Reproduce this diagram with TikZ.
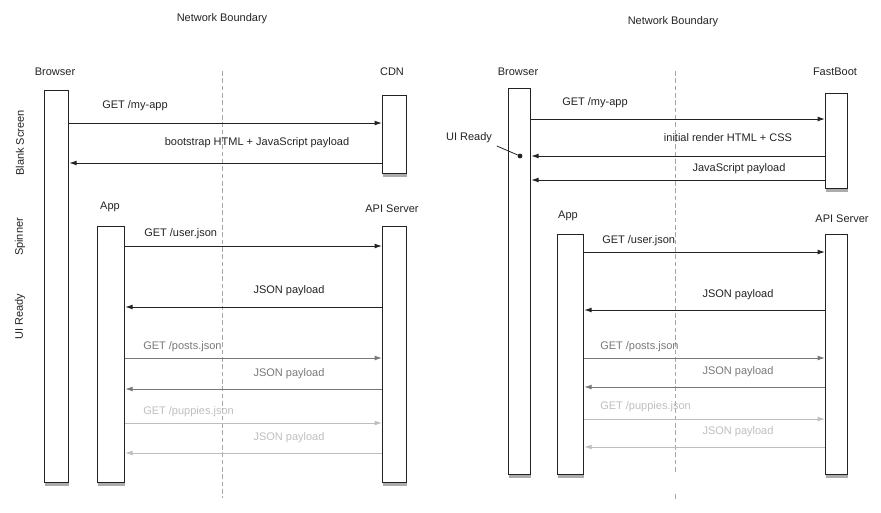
\documentclass[tikz,border=0pt]{standalone}
\usepackage{fontspec}
\setmainfont{Liberation Sans}
\usetikzlibrary{positioning,shadows,arrows.meta}

\definecolor{ink}{RGB}{35,35,35}
\definecolor{midgray}{RGB}{120,120,120}
\definecolor{palegray}{RGB}{190,190,190}
\definecolor{boundary}{RGB}{165,165,165}

\tikzset{
  lifeline/.style={draw=ink, line width=0.9pt, fill=white, anchor=north west, inner sep=0pt,
    drop shadow={shadow xshift=0.6pt, shadow yshift=-2.2pt, opacity=0.65}},
  actor/.style={inner sep=0.75pt, text=ink},
  msg/.style={color=ink, line width=0.7pt, -{Latex[length=5.5pt,width=3.6pt]}},
  msgtxt/.style={inner sep=0.75pt, text=ink},
  faded/.style={color=midgray},
  ghost/.style={color=palegray},
  boundaryline/.style={draw=boundary, line width=0.6pt, dash pattern=on 3.5pt off 2pt},
  dot/.style={circle, fill=ink, inner sep=0pt, minimum size=3.6pt},
}

\begin{document}
\begin{tikzpicture}[x=0.75pt,y=0.75pt,yscale=-1,xscale=1,font=\fontsize{8.25}{10}\selectfont]
  \useasboundingbox (0,0) rectangle (881,512);

  % left: CDN
  \node[actor] (nbL) at (222,19) {Network Boundary};
  \draw[boundaryline] (222,71) -- (222,498);

  \node[lifeline, minimum width=18pt, minimum height=294pt] (brL) at (44,90) {};
  \node[lifeline, minimum width=18pt, minimum height=58.5pt] (cdnL) at (382,95) {};
  \node[lifeline, minimum width=20.25pt, minimum height=192pt] (appL) at (97,226) {};
  \node[lifeline, minimum width=18pt, minimum height=192pt] (apiL) at (382,226) {};

  \node[actor] (brLtxt) at (55,72) {Browser};
  \node[actor] (cdnLtxt) at (392,72) {CDN};
  \node[actor] (appLtxt) at (110,207) {App};
  \node[actor] (apiLtxt) at (392,209) {API Server};

  \node[actor, rotate=90] (blank) at (20,143) {Blank Screen};
  \node[actor, rotate=90] (spinner) at (20,237) {Spinner};
  \node[actor, rotate=90] (readyL) at (20,317) {UI Ready};

  \draw[msg] (brL.east |- 0,123) -- (cdnL.west |- 0,123);
  \draw[msg] (cdnL.west |- 0,163) -- (brL.east |- 0,163);
  \draw[msg] (appL.east |- 0,246) -- (apiL.west |- 0,246);
  \draw[msg] (apiL.west |- 0,307) -- (appL.east |- 0,307);
  \draw[msg, faded] (appL.east |- 0,358) -- (apiL.west |- 0,358);
  \draw[msg, faded] (apiL.west |- 0,389) -- (appL.east |- 0,389);
  \draw[msg, ghost] (appL.east |- 0,423) -- (apiL.west |- 0,423);
  \draw[msg, ghost] (apiL.west |- 0,453) -- (appL.east |- 0,453);

  \node[msgtxt, anchor=west] (m1L) at (101,106) {GET /my-app};
  \node[msgtxt] (m2L) at (257,143) {bootstrap HTML + JavaScript payload};
  \node[msgtxt, anchor=west] (m3L) at (143,234) {GET /user.json};
  \node[msgtxt] (m4L) at (289,291) {JSON payload};
  \node[msgtxt, faded, anchor=west] (m5L) at (142,347) {GET /posts.json};
  \node[msgtxt, faded] (m6L) at (289,374) {JSON payload};
  \node[msgtxt, ghost, anchor=west] (m7L) at (142,412) {GET /puppies.json};
  \node[msgtxt, ghost] (m8L) at (289,438) {JSON payload};

  % right: FastBoot
  \node[actor] (nbR) at (673,22) {Network Boundary};
  \draw[boundaryline] (675,71) -- (675,472);
  \draw[boundaryline] (675,494) -- (675,499);

  \node[lifeline, minimum width=16.5pt, minimum height=289.5pt] (brR) at (508,88) {};
  \node[lifeline, minimum width=16.5pt, minimum height=71.25pt] (fbR) at (825,93) {};
  \node[lifeline, minimum width=19.5pt, minimum height=180pt] (appR) at (557,234) {};
  \node[lifeline, minimum width=16.5pt, minimum height=180pt] (apiR) at (825,234) {};

  \node[actor] (brRtxt) at (518,72) {Browser};
  \node[actor] (fbRtxt) at (835,72) {FastBoot};
  \node[actor] (appRtxt) at (568,216) {App};
  \node[actor] (apiRtxt) at (842,219) {API Server};

  \node[actor] (readyR) at (469,138) {UI Ready};
  \node[dot] (uidot) at (520,156) {};
  \draw[ink, line width=0.6pt, shorten <=3pt] (readyR.south east) -- (uidot);

  \draw[msg] (brR.east |- 0,119) -- (fbR.west |- 0,119);
  \draw[msg] (fbR.west |- 0,156) -- (brR.east |- 0,156);
  \draw[msg] (fbR.west |- 0,180) -- (brR.east |- 0,180);
  \draw[msg] (appR.east |- 0,252) -- (apiR.west |- 0,252);
  \draw[msg] (apiR.west |- 0,310) -- (appR.east |- 0,310);
  \draw[msg, faded] (appR.east |- 0,358) -- (apiR.west |- 0,358);
  \draw[msg, faded] (apiR.west |- 0,387) -- (appR.east |- 0,387);
  \draw[msg, ghost] (appR.east |- 0,419) -- (apiR.west |- 0,419);
  \draw[msg, ghost] (apiR.west |- 0,447) -- (appR.east |- 0,447);

  \node[msgtxt, anchor=west] (m1R) at (561,103) {GET /my-app};
  \node[msgtxt] (m2R) at (728,138) {initial render HTML + CSS};
  \node[msgtxt] (m3R) at (739,169) {JavaScript payload};
  \node[msgtxt, anchor=west] (m4R) at (601,241) {GET /user.json};
  \node[msgtxt] (m5R) at (738,295) {JSON payload};
  \node[msgtxt, faded, anchor=west] (m6R) at (599,347) {GET /posts.json};
  \node[msgtxt, faded] (m7R) at (738,372) {JSON payload};
  \node[msgtxt, ghost, anchor=west] (m8R) at (599,407) {GET /puppies.json};
  \node[msgtxt, ghost] (m9R) at (738,432) {JSON payload};
\end{tikzpicture}
\end{document}
